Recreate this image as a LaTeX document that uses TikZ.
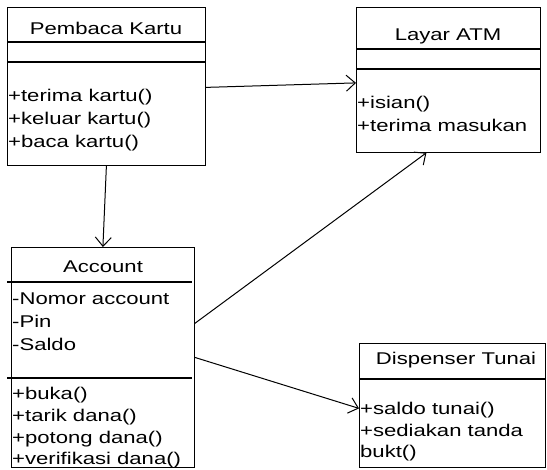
\documentclass[tikz,border=0pt]{standalone}
\usepackage{fontspec}
\setmainfont[FakeStretch=1.3]{Liberation Sans}
\usetikzlibrary{arrows.meta}

\begin{document}
\begin{tikzpicture}[
			x=1pt,y=-1pt,
			kelas/.style={draw,line width=0.8pt,inner sep=0pt,anchor=north west},
			sekat/.style={line width=1.5pt},
			judul/.style={anchor=base,inner sep=0pt,font=\fontsize{17}{23}\selectfont},
			isi/.style={anchor=base west,inner sep=0pt,align=left,font=\fontsize{17}{23}\selectfont},
			panah/.style={-{Straight Barb[length=9pt,width=16pt]},line width=1pt}
		]
		\useasboundingbox (0,0) rectangle (547,470);
		\node[kelas,minimum width=198pt,minimum height=158pt] (kartu) at (7,7) {};
		\node[kelas,minimum width=184pt,minimum height=145pt] (layar) at (356,7) {};
		\node[kelas,minimum width=183pt,minimum height=220pt] (account) at (11,247) {};
		\node[kelas,minimum width=186pt,minimum height=124pt] (dispenser) at (359,343) {};
		\draw[sekat] (kartu.west |- 0,42) -- (kartu.east |- 0,42);
		\draw[sekat] (kartu.west |- 0,62) -- (kartu.east |- 0,62);
		\draw[sekat] (layar.west |- 0,49) -- (layar.east |- 0,49);
		\draw[sekat] (layar.west |- 0,69) -- (layar.east |- 0,69);
		\draw[sekat] (7,282) -- (192,282);
		\draw[sekat] (7,378) -- (192,378);
		\draw[sekat] (dispenser.west |- 0,379) -- (dispenser.east |- 0,379);
		\node[judul] (kartu-nama) at (106,35) {Pembaca Kartu};
		\node[isi] (kartu-op) at (8,148) {+terima kartu()\\+keluar kartu()\\+baca kartu()};
		\node[judul] (layar-nama) at (448,41) {Layar ATM};
		\node[isi,font=\fontsize{17}{22.5}\selectfont] (layar-op) at (357,131.5) {+isian()\\+terima masukan};
		\node[judul] (account-nama) at (103,273) {Account};
		\node[isi] (account-atr) at (12,351) {-Nomor account\\-Pin\\-Saldo};
		\node[isi,font=\fontsize{17}{22}\selectfont] (account-op) at (12,465) {+buka()\\+tarik dana()\\+potong dana()\\+verifikasi dana()};
		\node[judul] (dispenser-nama) at (456,365) {Dispenser Tunai};
		\node[isi,font=\fontsize{17}{21.5}\selectfont] (dispenser-op) at (360,458) {+saldo tunai()\\+sediakan tanda\\bukt()};
		\draw[panah] ([yshift=-1pt]kartu.east) -- ([yshift=-3pt]layar.west);
		\draw[panah] (kartu.south) -- (account.north);
		\draw[panah] ([yshift=34pt]account.east) -- ([xshift=-22pt]layar.south);
		\draw[panah] (account.east) -- ([yshift=-3pt]dispenser.west);
	\end{tikzpicture}
\end{document}
